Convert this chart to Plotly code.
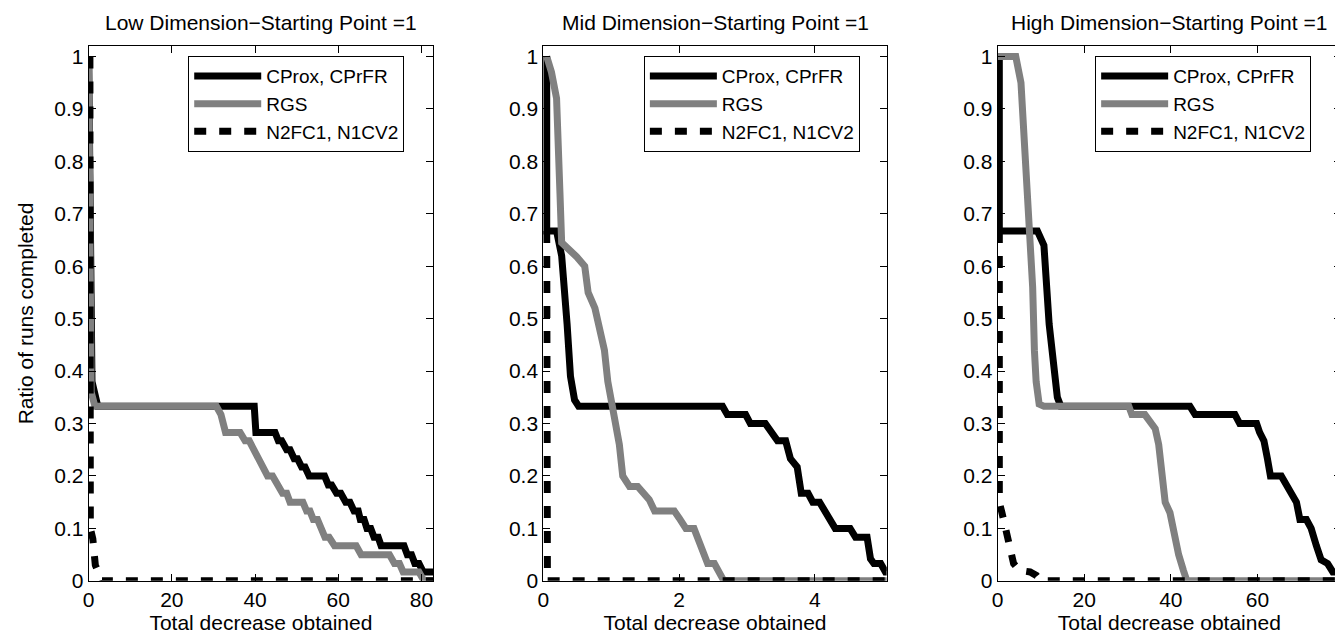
import plotly.graph_objects as go

# ---------------- data ----------------
titles = ["Low Dimension\u2212Starting Point =1",
          "Mid Dimension\u2212Starting Point =1",
          "High Dimension\u2212Starting Point =1"]
series_names = ["CProx, CPrFR", "RGS", "N2FC1, N1CV2"]
x_ranges = [[0, 82.8], [0, 5.06], [0, 79.3]]
x_tickvals = [[0, 20, 40, 60, 80], [0, 2, 4], [0, 20, 40, 60]]
y_tickvals = [0, 0.1, 0.2, 0.3, 0.4, 0.5, 0.6, 0.7, 0.8, 0.9, 1]
y_ticktext = ["0", "0.1", "0.2", "0.3", "0.4", "0.5", "0.6", "0.7", "0.8", "0.9", "1"]

# Low dimension
low_cprox_x = [0, 0.4, 0.8, 2.2, 39.8, 40.2, 44.8, 45.6, 46.4, 47.6, 48.4, 49.4, 50.2, 51.2, 52.0, 53.0, 56.7,
               57.6, 58.4, 59.6, 60.6, 61.8, 62.8, 63.8, 64.8, 65.3, 66.2, 66.9, 67.8, 68.6, 69.6, 70.3, 75.8,
               76.6, 77.6, 78.4, 79.4, 80.4, 82.9]
low_cprox_y = [1, 0.6, 0.38, 0.333, 0.333, 0.283, 0.283, 0.267, 0.267, 0.25, 0.25, 0.233, 0.233, 0.217, 0.217, 0.2, 0.2,
               0.183, 0.183, 0.167, 0.167, 0.15, 0.15, 0.133, 0.133, 0.117, 0.117, 0.1, 0.1, 0.083, 0.083, 0.067, 0.067,
               0.05, 0.05, 0.033, 0.033, 0.017, 0.017]
low_rgs_x = [0, 0.3, 0.6, 1.5, 30.7, 31.8, 32.9, 36.4, 37.6, 38.6, 39.8, 40.8, 42.0, 43.0, 44.2, 45.4, 46.6,
             47.6, 48.4, 51.5, 52.4, 53.2, 54.0, 55.0, 55.8, 56.8, 57.8, 59.1, 64.3, 65.5, 72.3, 73.5, 74.7,
             75.6, 76.3, 79.4, 80.6, 82.8]
low_rgs_y = [1, 0.6, 0.36, 0.333, 0.333, 0.317, 0.283, 0.283, 0.267, 0.267, 0.25, 0.233, 0.217, 0.2, 0.2, 0.183, 0.167,
             0.167, 0.15, 0.15, 0.133, 0.133, 0.117, 0.117, 0.1, 0.083, 0.083, 0.067, 0.067, 0.05, 0.05, 0.033, 0.033,
             0.017, 0.017, 0.017, 0, 0]
low_n2_x = [0.3, 0.4, 1.0, 1.6, 3.2, 82.8]
low_n2_y = [1, 0.1, 0.08, 0.03, 0, 0]

# Mid dimension
mid_cprox_x = [0.05, 0.05, 0.195, 0.27, 0.35, 0.40, 0.46, 0.52, 2.64, 2.71, 2.98, 3.05, 3.27, 3.37, 3.45, 3.57,
               3.64, 3.74, 3.80, 3.90, 3.97, 4.07, 4.14, 4.22, 4.30, 4.52, 4.60, 4.77, 4.82, 4.87, 4.97, 5.04, 5.06]
mid_cprox_y = [1, 0.667, 0.667, 0.62, 0.49, 0.39, 0.345, 0.333, 0.333, 0.317, 0.317, 0.3, 0.3, 0.283, 0.267, 0.267,
               0.233, 0.217, 0.167, 0.167, 0.15, 0.15, 0.133, 0.117, 0.1, 0.1, 0.083, 0.083, 0.042, 0.033, 0.033, 0.017, 0.017]
mid_rgs_x = [0.05, 0.12, 0.195, 0.22, 0.245, 0.27, 0.34, 0.415, 0.49, 0.61, 0.66, 0.76, 0.90, 0.95, 1.03, 1.12,
             1.17, 1.27, 1.39, 1.47, 1.56, 1.64, 1.93, 2.0, 2.1, 2.22, 2.32, 2.42, 2.52, 2.59, 2.66, 5.06]
mid_rgs_y = [1, 0.97, 0.92, 0.86, 0.74, 0.645, 0.637, 0.63, 0.618, 0.6, 0.55, 0.52, 0.44, 0.38, 0.33, 0.26,
             0.2, 0.18, 0.18, 0.167, 0.155, 0.133, 0.133, 0.12, 0.1, 0.1, 0.07, 0.033, 0.033, 0.017, 0, 0]
mid_n2_x = [0.05, 0.06, 5.06]
mid_n2_y = [0.667, 0, 0]

# High dimension
high_cprox_x = [0.4, 0.4, 9.2, 10.7, 11.9, 13.0, 13.8, 14.6, 44.4, 45.6, 54.8, 55.9, 59.8, 60.5, 61.5, 62.3, 63.0,
                65.5, 66.5, 67.8, 69.0, 69.8, 71.3, 72.4, 73.6, 74.7, 76.2, 77.4, 79.3]
high_cprox_y = [1, 0.667, 0.667, 0.64, 0.49, 0.39, 0.35, 0.333, 0.333, 0.317, 0.317, 0.3, 0.3, 0.283, 0.267, 0.233, 0.2,
                0.2, 0.183, 0.167, 0.15, 0.117, 0.117, 0.1, 0.067, 0.04, 0.033, 0.017, 0.017]
high_rgs_x = [0, 4.2, 5.4, 6.0, 6.4, 7.4, 8.1, 8.5, 8.9, 9.6, 10.7, 30.3, 31.0, 34.0, 35.6, 36.4, 37.2, 37.9,
              38.7, 39.8, 41.0, 41.8, 42.9, 43.7, 79.3]
high_rgs_y = [1, 1, 0.95, 0.86, 0.77, 0.667, 0.56, 0.44, 0.38, 0.337, 0.333, 0.333, 0.317, 0.317, 0.3, 0.29, 0.26, 0.2,
              0.15, 0.13, 0.08, 0.05, 0.02, 0, 0]
high_n2_x = [0.4, 0.4, 1.0, 2.5, 3.7, 5.0, 7.5, 9.0, 10.0, 79.3]
high_n2_y = [0.667, 0.15, 0.13, 0.07, 0.033, 0.02, 0.017, 0.01, 0, 0]

panels = [
    [(low_cprox_x, low_cprox_y), (low_rgs_x, low_rgs_y), (low_n2_x, low_n2_y)],
    [(mid_cprox_x, mid_cprox_y), (mid_rgs_x, mid_rgs_y), (mid_n2_x, mid_n2_y)],
    [(high_cprox_x, high_cprox_y), (high_rgs_x, high_rgs_y), (high_n2_x, high_n2_y)],
]

# ---------------- styling ----------------
W, H = 1343, 644
FONT = "Liberation Sans, Arial, Helvetica, sans-serif"
FS = 21
LEG_FS = 19
line_styles = [dict(color="black", width=7, dash="solid"),
               dict(color="#808080", width=7, dash="solid"),
               dict(color="black", width=7, dash="12px,13px")]

plot_left_px = [75, 531.7, 988]
plot_right_px = [421, 876.7, 1333]
plot_top_px, plot_bottom_px = 37.7, 582.7
legend_left_px = [175, 632.7, 1086]
legend_top_px = 48

fig = go.Figure()
legend_ids = ["legend", "legend2", "legend3"]

for p, data in enumerate(panels):
    suffix = "" if p == 0 else str(p + 1)
    for s, (xs, ys) in enumerate(data):
        fig.add_trace(go.Scatter(
            x=xs, y=ys, mode="lines", name=series_names[s],
            line=line_styles[s], xaxis="x" + suffix, yaxis="y" + suffix,
            legend=legend_ids[p], showlegend=True, hoverinfo="skip"))

layout = dict(
    width=W, height=H, margin=dict(l=0, r=0, t=0, b=0),
    paper_bgcolor="white", plot_bgcolor="white",
    font=dict(family=FONT, size=FS, color="black"),
    annotations=[],
)

for p in range(3):
    suffix = "" if p == 0 else str(p + 1)
    xd = [plot_left_px[p] / W, plot_right_px[p] / W]
    yd = [1 - plot_bottom_px / H, 1 - plot_top_px / H]
    layout["xaxis" + suffix] = dict(
        domain=xd, range=x_ranges[p], anchor="y" + suffix,
        tickvals=x_tickvals[p], ticktext=[str(v) for v in x_tickvals[p]],
        ticks="inside", ticklen=7, tickcolor="black", tickwidth=1,
        showline=True, linecolor="black", linewidth=1, mirror="allticks",
        showgrid=False, zeroline=False,
        tickfont=dict(size=FS, family=FONT, color="black"),
        title=dict(text="Total decrease obtained", font=dict(size=FS, family=FONT), standoff=1),
    )
    layout["yaxis" + suffix] = dict(
        domain=yd, range=[0, 1.02], anchor="x" + suffix,
        tickvals=y_tickvals, ticktext=y_ticktext,
        ticks="inside", ticklen=7, tickcolor="black", tickwidth=1,
        showline=True, linecolor="black", linewidth=1, mirror="allticks",
        showgrid=False, zeroline=False,
        tickfont=dict(size=FS, family=FONT, color="black"),
        title=dict(text="Ratio of runs completed" if p == 0 else "", font=dict(size=FS, family=FONT), standoff=14),
    )
    layout[legend_ids[p]] = dict(
        x=legend_left_px[p] / W, y=1 - legend_top_px / H, xanchor="left", yanchor="top",
        bgcolor="white", bordercolor="black", borderwidth=1,
        font=dict(size=LEG_FS, family=FONT, color="black"),
        itemwidth=67, tracegroupgap=0, itemclick=False, itemdoubleclick=False,
    )
    layout["annotations"].append(dict(
        text=titles[p], xref="paper", yref="paper",
        x=(plot_left_px[p] + plot_right_px[p]) / 2 / W, y=1 - 14 / H,
        xanchor="center", yanchor="middle", showarrow=False,
        font=dict(size=FS, family=FONT, color="black")))

fig.update_layout(**layout)
fig.write_html("out.html")
